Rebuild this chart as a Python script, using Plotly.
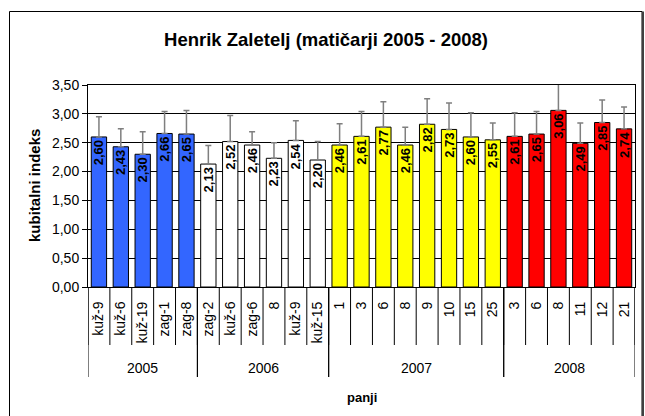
import plotly.graph_objects as go

# ---- data ----
years = ["2005", "2006", "2007", "2008"]
labels_2005 = ["kuž-9", "kuž-6", "kuž-19", "zag-1", "zag-8"]
labels_2006 = ["zag-2", "kuž-6", "zag-6", "8", "kuž-9", "kuž-15"]
labels_2007 = ["1", "3", "6", "8", "9", "10", "15", "25"]
labels_2008 = ["3", "6", "8", "11", "12", "21"]

values_2005 = [2.60, 2.43, 2.30, 2.66, 2.65]
values_2006 = [2.13, 2.52, 2.46, 2.23, 2.54, 2.20]
values_2007 = [2.46, 2.61, 2.77, 2.46, 2.82, 2.73, 2.60, 2.55]
values_2008 = [2.61, 2.65, 3.06, 2.49, 2.85, 2.74]

errors_2005 = [0.35, 0.31, 0.39, 0.38, 0.41]
errors_2006 = [0.32, 0.45, 0.23, 0.27, 0.34, 0.32]
errors_2007 = [0.37, 0.43, 0.44, 0.31, 0.44, 0.46, 0.42, 0.29]
errors_2008 = [0.41, 0.39, 0.48, 0.35, 0.39, 0.38]

year_colors = {"2005": "#3366FF", "2006": "#FFFFFF", "2007": "#FFFF00", "2008": "#FF0000"}

groups = [
    ("2005", labels_2005, values_2005, errors_2005),
    ("2006", labels_2006, values_2006, errors_2006),
    ("2007", labels_2007, values_2007, errors_2007),
    ("2008", labels_2008, values_2008, errors_2008),
]

# ---- assemble ----
xs, ticktext, ys, errs, colors = [], [], [], [], []
group_bounds = []
i = 0
for yr, labs, vals, es in groups:
    start = i
    for lab, v, e in zip(labs, vals, es):
        xs.append(i)
        ticktext.append(lab)
        ys.append(v)
        errs.append(e)
        colors.append(year_colors[yr])
        i += 1
    group_bounds.append((yr, start, i - 1))
n = len(xs)

# plot area pixel geometry
W, H = 645, 416
L, R, T, B = 88, 635, 85, 287
pw, ph = R - L, B - T


def px_x(p):
    return (p - L) / pw


def px_y(p):
    return (B - p) / ph


FONT = "Arial, Liberation Sans, sans-serif"

fig = go.Figure()
fig.add_trace(go.Bar(
    x=xs, y=ys,
    marker=dict(color=colors, line=dict(color="black", width=1)),
    width=0.7,
    text=ys,
    texttemplate="%{y:.2f}",
    textposition="inside",
    insidetextanchor="end",
    textangle=-90,
    constraintext="none",
    textfont=dict(family=FONT, size=13, color="black", weight="bold"),
    error_y=dict(type="data", symmetric=False, array=errs, arrayminus=[0] * n,
                 color="#7f7f7f", thickness=1.5, width=3),
    cliponaxis=False,
    hoverinfo="skip",
))

shapes = []
# inner dividers at every category boundary
for k in range(n + 1):
    shapes.append(dict(type="line", xref="x", yref="paper",
                       x0=k - 0.5, x1=k - 0.5, y0=0, y1=px_y(345),
                       line=dict(color="black", width=1)))
# group dividers
annotations = []
for yr, s, e in group_bounds:
    for xb in (s - 0.5, e + 0.5):
        shapes.append(dict(type="line", xref="x", yref="paper",
                           x0=xb, x1=xb, y0=0, y1=px_y(377),
                           line=dict(color="black", width=1)))
    annotations.append(dict(x=(s + e) / 2, y=px_y(368), xref="x", yref="paper",
                            text=yr, showarrow=False, xanchor="center", yanchor="middle",
                            font=dict(family=FONT, size=14, color="black")))

# outer chart border
shapes.append(dict(type="rect", xref="paper", yref="paper",
                   x0=px_x(9.5), x1=px_x(642), y0=px_y(11.5), y1=px_y(430),
                   line=dict(color="black", width=1)))
shapes.append(dict(type="line", xref="paper", yref="paper",
                   x0=px_x(643), x1=px_x(643), y0=px_y(11.5), y1=px_y(430),
                   line=dict(color="#404040", width=2)))

annotations.append(dict(x=0.5, y=px_y(397), xref="paper", yref="paper", text="panji",
                        showarrow=False, xanchor="center", yanchor="middle",
                        font=dict(family=FONT, size=13, color="black", weight="bold")))
annotations.append(dict(x=px_x(34), y=0.5, xref="paper", yref="paper", text="kubitalni indeks",
                        showarrow=False, textangle=-90, xanchor="center", yanchor="middle",
                        font=dict(family=FONT, size=15, color="black", weight="bold")))

fig.update_layout(
    width=W, height=H,
    margin=dict(l=L, r=W - R, t=T, b=H - B, autoexpand=False),
    paper_bgcolor="white", plot_bgcolor="white",
    separators=",.",
    showlegend=False,
    title=dict(text="Henrik Zaletelj (matičarji 2005 - 2008)", x=326 / W, y=1 - 40 / H,
               xref="container", yref="container", xanchor="center", yanchor="middle",
               font=dict(family=FONT, size=18.5, color="black", weight="bold")),
    font=dict(family=FONT, color="black"),
    shapes=shapes,
    annotations=annotations,
    bargap=0.3,
)
fig.update_xaxes(
    range=[-0.5, n - 0.5], tickmode="array", tickvals=xs, ticktext=ticktext,
    tickangle=-90, ticks="", showgrid=False, zeroline=False,
    showline=True, linecolor="black", linewidth=1, mirror=True,
    tickfont=dict(family=FONT, size=14, color="black"),
    ticklabelstandoff=8,
)
fig.update_yaxes(
    range=[0, 3.5], dtick=0.5, tick0=0, tickformat=".2f",
    ticks="outside", ticklen=5, tickcolor="black",
    showgrid=True, gridcolor="black", gridwidth=1,
    zeroline=False, showline=True, linecolor="black", linewidth=1, mirror=True,
    tickfont=dict(family=FONT, size=14, color="black"),
)

fig.write_html("out.html",
               config={"displayModeBar": False},
               post_script="document.body.style.margin='0';document.body.style.padding='0';"
                           "document.documentElement.style.overflow='hidden';")
